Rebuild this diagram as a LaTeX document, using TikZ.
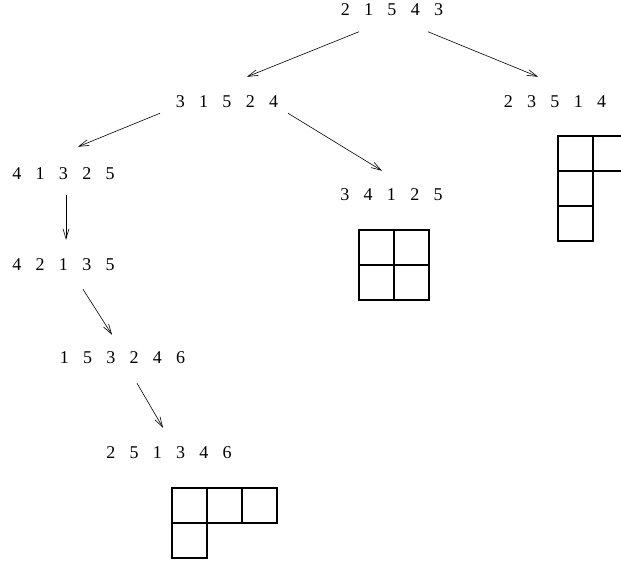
\documentclass[tikz,border=0pt]{standalone}
\usepackage{fontspec}
\setmainfont{Liberation Serif}
\usetikzlibrary{arrows.meta}
\newcommand\gp{\hspace{14.3pt}}
\tikzset{perm/.style={inner sep=0pt,font=\fontsize{18}{20}\selectfont},
  arr/.style={-{Straight Barb[length=10pt,width=6pt]},line width=0.6pt},
  cell/.style={line width=1.1pt}}

\begin{document}
\begin{tikzpicture}[x=1pt,y=-1pt]
\useasboundingbox (0,0) rectangle (621,563);
\clip (0,0) rectangle (621,563);

\node[perm] (p0) at (392,9.5) {2\gp 1\gp 5\gp 4\gp 3};
\node[perm] (p1) at (227,102) {3\gp 1\gp 5\gp 2\gp 4};
\node[perm] (p2) at (555,102) {2\gp 3\gp 5\gp 1\gp 4};
\node[perm] (p3) at (63.5,174) {4\gp 1\gp 3\gp 2\gp 5};
\node[perm] (p4) at (391.5,195) {3\gp 4\gp 1\gp 2\gp 5};
\node[perm] (p5) at (63.5,265) {4\gp 2\gp 1\gp 3\gp 5};
\node[perm] (p6) at (122.5,358) {1\gp 5\gp 3\gp 2\gp 4\gp 6};
\node[perm] (p7) at (169,453) {2\gp 5\gp 1\gp 3\gp 4\gp 6};

\draw[arr] ([xshift=-33pt,yshift=-16pt]p0.south) -- ([xshift=20pt,yshift=19pt]p1.north);
\draw[arr] ([xshift=36pt,yshift=-16pt]p0.south) -- ([xshift=-17pt,yshift=19pt]p2.north);
\draw[arr] ([xshift=-67pt,yshift=-5pt]p1.south) -- ([xshift=14.5pt,yshift=21pt]p3.north);
\draw[arr] ([xshift=61pt,yshift=-5pt]p1.south) -- ([xshift=-9.5pt,yshift=18pt]p4.north);
\draw[arr] ([xshift=2.5pt,yshift=-15pt]p3.south) -- ([xshift=2.5pt,yshift=19pt]p5.north);
\draw[arr] ([xshift=19.5pt,yshift=-18pt]p5.south) -- ([xshift=-10.5pt,yshift=17pt]p6.north);
\draw[arr] ([xshift=14.5pt,yshift=-19pt]p6.south) -- ([xshift=-6pt,yshift=19pt]p7.north);

\foreach \i/\j in {0/0,1/0,0/1,1/1}
  \draw[cell] (359+35*\i,230+35*\j) rectangle ++(35,35);
\foreach \i/\j in {0/0,1/0,0/1,0/2}
  \draw[cell] (558+35*\i,136+35*\j) rectangle ++(35,35);
\foreach \i/\j in {0/0,1/0,2/0,0/1}
  \draw[cell] (172+35*\i,488+35*\j) rectangle ++(35,35);

\end{tikzpicture}
\end{document}
